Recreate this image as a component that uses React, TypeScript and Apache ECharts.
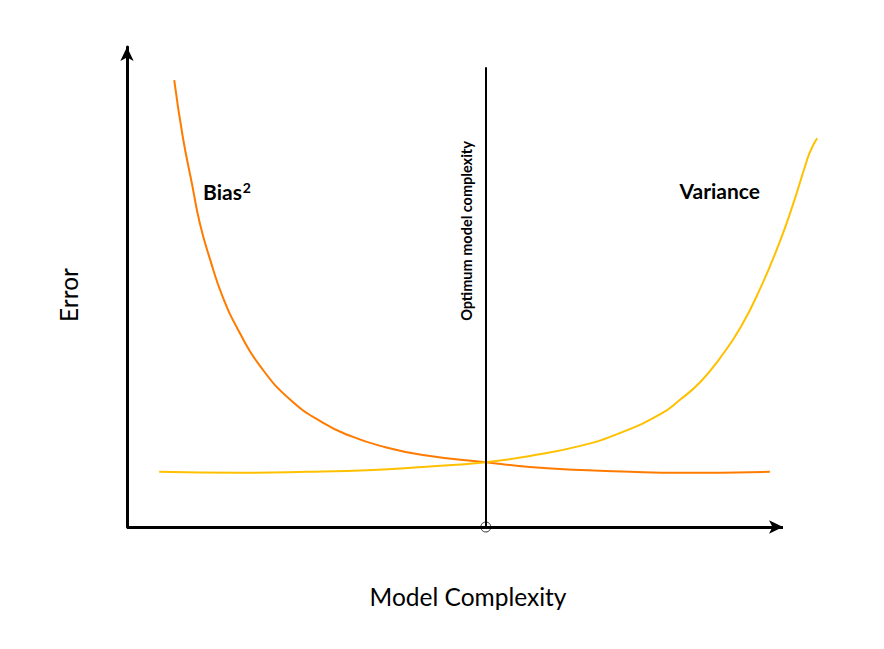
import React, { useEffect, useRef } from "react";
import * as echarts from "echarts";

// Model complexity (x) vs error (y), arbitrary units
const biasX = [0.72, 0.85, 0.99, 1.11, 1.27, 1.46, 1.72, 2.03, 2.49, 2.99, 3.4, 3.86, 4.51, 5.47, 6.14, 6.91, 7.67, 8.43, 9.8];
const biasY = [9.31, 8.13, 7.15, 6.33, 5.56, 4.79, 4.04, 3.35, 2.65, 2.17, 1.9, 1.69, 1.5, 1.35, 1.25, 1.19, 1.15, 1.13, 1.15];
const varianceX = [0.49, 1.72, 2.74, 3.75, 4.51, 5.47, 6.14, 6.91, 7.52, 8.13, 8.43, 8.74, 9.04, 9.35, 9.65, 9.95, 10.15, 10.31, 10.41, 10.52];
const varianceY = [1.15, 1.13, 1.15, 1.19, 1.25, 1.35, 1.48, 1.69, 1.96, 2.35, 2.65, 3.02, 3.52, 4.15, 4.96, 5.94, 6.71, 7.4, 7.81, 8.1];
const optimumX = 5.47;
const optimumTop = 9.58;
const xAxisEnd = 10;
const labels = { bias: "Bias", biasSup: "2", variance: "Variance", optimum: "Optimum model complexity", xName: "Model Complexity", yName: "Error" };

const FONT = "Lato, 'Open Sans', sans-serif";

export default function App() {
  const ref = useRef<HTMLDivElement>(null);
  useEffect(() => {
    if (!ref.current) return;
    const chart = echarts.init(ref.current, null, { renderer: "svg" });
    const zip = (xs: number[], ys: number[]) => xs.map((x, i) => [x, ys[i]]);
    chart.setOption({
      animation: false,
      backgroundColor: "#ffffff",
      grid: { left: 127, top: 47, width: 695.36, height: 480 },
      xAxis: {
        type: "value",
        min: 0,
        max: 10.6,
        axisLine: { show: false },
        axisTick: { show: false },
        axisLabel: { show: false },
        splitLine: { show: false },
      },
      yAxis: {
        type: "value",
        min: 0,
        max: 10,
        axisLine: { show: true, onZero: false, symbol: ["none", "arrow"], symbolSize: [10, 14], lineStyle: { color: "#000", width: 3 } },
        axisTick: { show: false },
        axisLabel: { show: false },
        splitLine: { show: false },
      },
      series: [
        {
          type: "line",
          data: zip(biasX, biasY),
          smooth: 0.5,
          showSymbol: false,
          clip: false,
          lineStyle: { color: "#FF7B00", width: 2 },
          z: 3,
          markLine: {
            silent: true,
            symbol: ["none", "arrow"],
            symbolSize: [10, 14],
            label: { show: false },
            lineStyle: { color: "#000", width: 3, type: "solid" },
            data: [[{ coord: [0, 0] }, { coord: [xAxisEnd, 0] }]],
          },
        },
        {
          type: "line",
          data: zip(varianceX, varianceY),
          smooth: 0.5,
          showSymbol: false,
          clip: false,
          lineStyle: { color: "#FFC000", width: 2 },
          z: 3,
          markLine: {
            silent: true,
            symbol: "none",
            label: { show: false },
            lineStyle: { color: "#000", width: 2, type: "solid" },
            data: [[{ coord: [optimumX, 0] }, { coord: [optimumX, optimumTop] }]],
          },
        },
        {
          type: "scatter",
          data: [[optimumX, 0]],
          symbol: "circle",
          symbolSize: 10,
          clip: false,
          itemStyle: { color: "rgba(0,0,0,0)", borderColor: "#000", borderWidth: 1 },
          z: 5,
        },
      ],
      graphic: [
        {
          type: "text",
          x: 203,
          y: 191,
          style: {
            text: `{b|${labels.bias}}{s|${labels.biasSup}}`,
            fontFamily: FONT,
            fill: "#000",
            verticalAlign: "middle",
            textAlign: "left",
            rich: {
              b: { fontFamily: FONT, fontWeight: "bold", fontSize: 21, fill: "#000", verticalAlign: "bottom" },
              s: { fontFamily: FONT, fontWeight: "bold", fontSize: 14, fill: "#000", verticalAlign: "top", padding: [0, 0, 0, 1] },
            },
          },
        },
        {
          type: "text",
          x: 760,
          y: 190,
          style: { text: labels.variance, fontFamily: FONT, fontWeight: "bold", fontSize: 21, fill: "#000", verticalAlign: "middle", textAlign: "right" },
        },
        {
          type: "text",
          x: 466,
          y: 231,
          rotation: Math.PI / 2,
          style: { text: labels.optimum, fontFamily: FONT, fontWeight: "bold", fontSize: 14.5, fill: "#000", verticalAlign: "middle", textAlign: "center" },
        },
        {
          type: "text",
          x: 468,
          y: 596,
          style: { text: labels.xName, fontFamily: FONT, fontSize: 24.5, fill: "#000", verticalAlign: "middle", textAlign: "center" },
        },
        {
          type: "text",
          x: 68,
          y: 295,
          rotation: Math.PI / 2,
          style: { text: labels.yName, fontFamily: FONT, fontSize: 24.5, fill: "#000", verticalAlign: "middle", textAlign: "center" },
        },
      ],
    });
    return () => chart.dispose();
  }, []);
  return <div ref={ref} style={{ position: "absolute", left: 0, top: 0, width: 884, height: 649 }} />;
}
